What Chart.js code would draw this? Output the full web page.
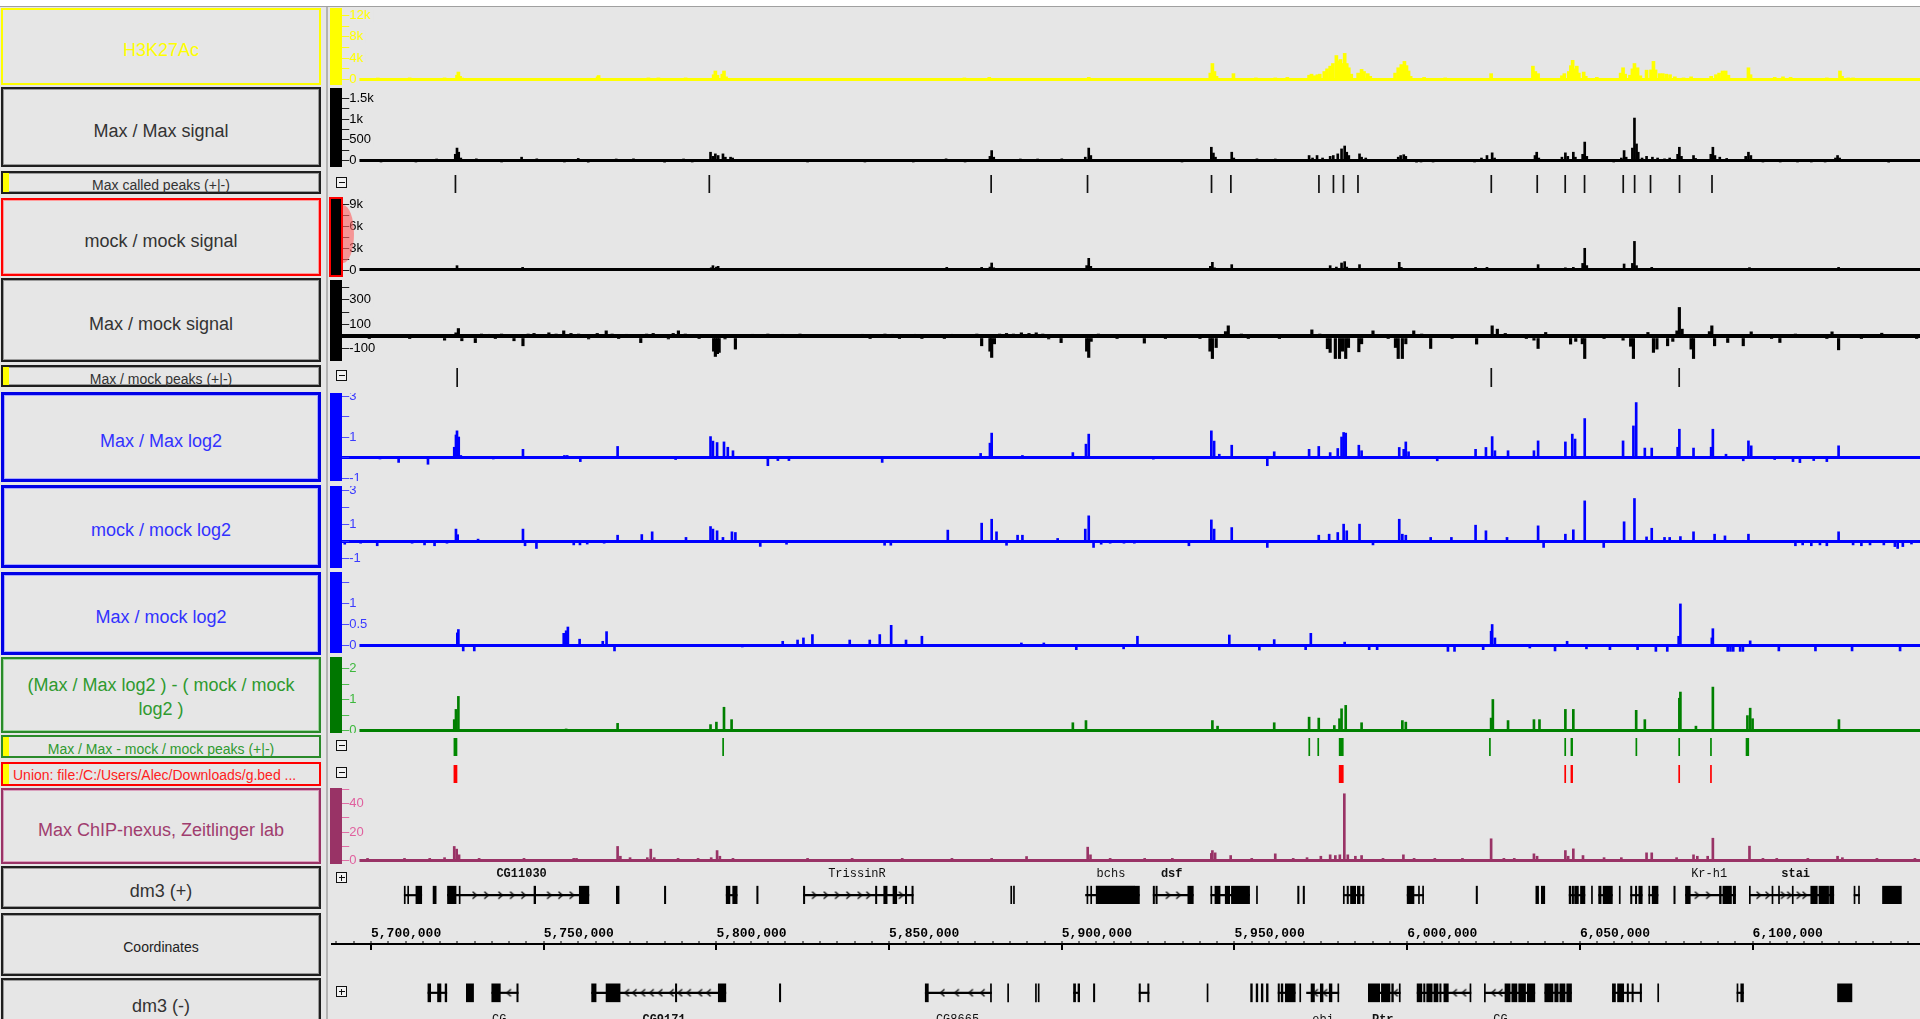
<!DOCTYPE html>
<html>
<head>
<meta charset="utf-8">
<script src="https://cdn.jsdelivr.net/npm/chart.js@4.4.1/dist/chart.umd.min.js"></script>
<style>
body{margin:0;width:1920px;height:1019px;overflow:hidden;background:#e6e6e6;position:relative;font-family:"Liberation Sans",Arial,sans-serif}
.abs{position:absolute}
.box{position:absolute;left:1px;width:320px;box-sizing:border-box;display:flex;align-items:center;justify-content:center;text-align:center;padding-top:7px;font-size:18px;line-height:24px;color:#333;background:#e6e6e6}
.k{border:2px solid #1e1e1e;box-shadow:inset 0 0 0 1px #9a9a9a}
.b{border:3px solid #0000e6;box-shadow:inset 0 0 0 1px #a8a8ff;color:#3232ff}
.small{font-size:14px;line-height:16px;padding-top:5px}
.flag{position:absolute;left:0;top:0;bottom:0;width:6px;background:#ffff00}
.tbar{position:absolute;left:330px;width:12px;z-index:3}
.ico{position:absolute;left:336px;width:9px;height:9px;border:1.5px solid #111;background:#f2f2f2;z-index:3}
.ico::before{content:'';position:absolute;left:1.5px;right:1.5px;top:3.75px;height:1.5px;background:#111}
.ico.plus::after{content:'';position:absolute;top:1.5px;bottom:1.5px;left:3.75px;width:1.5px;background:#111}
</style>
</head>
<body>
<div class="abs" style="left:0;top:0;width:1920px;height:6px;background:#fff;border-bottom:1px solid #a0a0a0"></div>
<div class="abs" style="left:326px;top:7px;width:2px;height:1012px;background:#b4b4b4"></div>

<!-- track names -->
<div class="box" style="top:8px;height:77px;border:2px solid #ffff00;color:#ffff00">H3K27Ac</div>
<div class="box k" style="top:87px;height:80px">Max / Max signal</div>
<div class="box k small" style="top:171px;height:23px"><div class="flag"></div>Max called peaks (+|-)</div>
<div class="box" style="top:198px;height:78px;border:2px solid #ff0000;box-shadow:inset 0 0 0 1px #ff9a9a">mock / mock signal</div>
<div class="box k" style="top:278px;height:84px">Max / mock signal</div>
<div class="box k small" style="top:365px;height:22px"><div class="flag"></div>Max / mock peaks (+|-)</div>
<div class="box b" style="top:392px;height:90px">Max / Max log2</div>
<div class="box b" style="top:485px;height:83px">mock / mock log2</div>
<div class="box b" style="top:572px;height:83px">Max / mock log2</div>
<div class="box" style="top:657px;height:76px;border:2px solid #2a8a2a;box-shadow:inset 0 0 0 1px #9fd49f;color:#2f9a2f;padding-top:3px">(Max / Max log2 ) - ( mock / mock<br>log2 )</div>
<div class="box small" style="top:735px;height:23px;border:2px solid #2a8a2a;color:#2f9a2f"><div class="flag"></div>Max / Max - mock / mock peaks (+|-)</div>
<div class="box small" style="top:762px;height:24px;border:2px solid #ff0000;color:#ff2020;justify-content:flex-start;padding-left:10px;padding-top:2px"><div class="flag"></div>Union: file:/C:/Users/Alec/Downloads/g.bed ...</div>
<div class="box" style="top:788px;height:76px;border:2px solid #993366;box-shadow:inset 0 0 0 1px #d9a0bd;color:#a03d6e">Max ChIP-nexus, Zeitlinger lab</div>
<div class="box k" style="top:866px;height:43px">dm3 (+)</div>
<div class="box k small" style="top:913px;height:63px;color:#222">Coordinates</div>
<div class="box k" style="top:978px;height:50px;align-items:flex-start;padding-top:14px">dm3 (-)</div>

<!-- data range bars and collapse icons -->
<div class="tbar" style="top:8px;height:77px;background:#ffff00"></div>
<div class="tbar" style="top:88px;height:79px;background:#000"></div>
<div class="tbar" style="top:197px;height:80px;left:329px;width:14px;box-sizing:border-box;border:2px solid #ff0000;background:#000"></div>
<div class="abs" style="left:343px;top:205px;width:11px;height:58px;z-index:2;background:rgba(255,95,95,0.6);border-radius:0 100% 100% 0 / 0 50% 50% 0"></div>
<div class="tbar" style="top:280px;height:81px;background:#000"></div>
<div class="tbar" style="top:393px;height:88px;background:#0000ff"></div>
<div class="tbar" style="top:486px;height:82px;background:#0000ff"></div>
<div class="tbar" style="top:572px;height:81px;background:#0000ff"></div>
<div class="tbar" style="top:657px;height:76px;background:#007700"></div>
<div class="tbar" style="top:788px;height:76px;background:#993366"></div>
<div class="ico" style="top:177px"></div>
<div class="ico" style="top:370px"></div>
<div class="ico" style="top:740px"></div>
<div class="ico" style="top:767px"></div>
<div class="ico plus" style="top:872px"></div>
<div class="ico plus" style="top:986px"></div>

<script>
// visible window, in kb of chr (dm3)
const XMIN = 5688.42, XMAX = 6148.47;
const BG = '#e6e6e6';

// ---- H3K27Ac ----
const h3kPos = [5702.0, 5711.2, 5721.3, 5724.9, 5725.3, 5725.8, 5726.4, 5765.6, 5765.9, 5780.3,
  5783.2, 5791.1, 5799.2, 5799.7, 5800.3, 5801.7, 5802.2, 5802.8, 5871.8, 5879.0,
  5907.8, 5943.0, 5943.6, 5944.2, 5944.8, 5949.7, 5956.2, 5961.8, 5965.3, 5971.6,
  5972.3, 5973.2, 5974.0, 5974.7, 5976.0, 5976.8, 5977.7, 5978.5, 5979.5, 5980.1,
  5980.7, 5981.3, 5981.9, 5982.5, 5983.1, 5983.8, 5985.8, 5986.8, 5987.5, 5988.6,
  5989.3, 5996.5, 5997.4, 5998.3, 5999.2, 5999.8, 6000.4, 6001.0, 6004.9, 6011.0,
  6024.3, 6036.4, 6037.1, 6037.9, 6044.8, 6045.5, 6046.8, 6047.4, 6047.9, 6048.5,
  6049.1, 6049.7, 6051.1, 6051.7, 6054.9, 6061.8, 6062.5, 6063.1, 6064.5, 6065.2,
  6065.8, 6066.7, 6067.5, 6069.3, 6070.6, 6071.3, 6071.9, 6073.1, 6074.0, 6075.0,
  6076.1, 6077.5, 6080.0, 6082.2, 6088.0, 6089.4, 6090.3, 6091.3, 6092.2, 6093.0,
  6098.8, 6099.4, 6106.4, 6108.8, 6111.0, 6121.5, 6125.3, 6125.9, 6127.7, 6129.1];
const h3kVal = [200, 300, 300, 800, 1400, 600, 200, 500, 750, 300,
  300, 300, 900, 1600, 800, 1000, 1600, 500, 300, 400,
  400, 1200, 3000, 1500, 600, 1100, 300, 300, 400, 800,
  1000, 700, 900, 1000, 1500, 2000, 2500, 3000, 4500, 3500,
  3750, 3000, 4900, 3000, 2200, 1000, 1200, 1900, 1500, 1100,
  600, 1200, 2200, 2800, 3400, 2600, 1600, 600, 400, 300,
  1100, 2500, 1500, 1100, 700, 1100, 1500, 2600, 3600, 2000,
  2500, 1200, 1400, 600, 400, 1200, 2200, 1000, 800, 2000,
  3000, 2200, 700, 1750, 1800, 3400, 1800, 1100, 1100, 1000,
  900, 500, 300, 500, 600, 900, 1200, 1600, 1600, 800,
  2200, 900, 400, 500, 400, 300, 1600, 600, 300, 300];
const h3kTicks = [0, 2000, 4000, 6000, 8000, 10000, 12000];
const h3kTickText = ['0', '', '4k', '', '8k', '', '12k'];

// ---- Max / Max signal ----
const maxPos = [5702.9, 5713.0, 5719.0, 5724.4, 5724.9, 5725.4, 5726.0, 5730.5, 5737.8, 5743.6,
  5748.0, 5756.0, 5760.0, 5762.9, 5771.0, 5776.0, 5785.0, 5790.5, 5793.0, 5798.3,
  5799.0, 5799.7, 5800.5, 5801.9, 5802.6, 5804.1, 5804.7, 5826.4, 5843.0, 5857.0,
  5866.5, 5872.0, 5879.2, 5879.7, 5880.3, 5888.0, 5893.0, 5900.0, 5906.8, 5907.8,
  5908.4, 5934.8, 5943.3, 5943.9, 5944.5, 5949.2, 5949.8, 5956.5, 5961.8, 5971.6,
  5972.6, 5973.9, 5975.5, 5977.7, 5978.6, 5979.9, 5981.0, 5981.9, 5982.5, 5983.1,
  5986.2, 5986.8, 5988.0, 5997.4, 5998.1, 5999.0, 5999.6, 6002.7, 6004.0, 6007.5,
  6019.5, 6021.5, 6023.1, 6024.6, 6025.3, 6037.0, 6037.5, 6038.1, 6044.8, 6045.8,
  6046.5, 6048.1, 6048.7, 6050.8, 6051.4, 6052.0, 6059.8, 6062.0, 6062.8, 6063.4,
  6065.2, 6065.8, 6066.4, 6066.9, 6068.0, 6069.3, 6071.0, 6072.5, 6074.5, 6076.0,
  6078.3, 6078.8, 6079.4, 6082.9, 6083.5, 6087.9, 6088.5, 6089.1, 6090.5, 6092.5,
  6098.0, 6098.8, 6099.5, 6103.0, 6108.0, 6113.0, 6117.0, 6121.0, 6124.0, 6124.6,
  6125.2, 6139.4];
const maxVal = [-30, -30, 30, 150, 300, 200, 60, 40, -30, 80,
  40, -30, 50, -40, 30, 40, -40, 30, -30, 200,
  100, 160, 120, 160, 80, 80, 60, -30, -30, -30,
  40, -30, 100, 240, 80, 30, 30, 40, 80, 300,
  120, -30, 320, 180, 80, 200, 60, 40, 30, 120,
  60, 120, 60, 100, 120, 160, 280, 350, 200, 120,
  160, 80, 60, 80, 120, 140, 100, -40, -30, -30,
  -30, 60, 120, 185, 60, 120, 200, 60, 80, 185,
  100, 200, 80, 150, 445, 100, -30, 60, 240, 80,
  300, 1025, 400, 200, 60, 100, 80, 60, 40, 60,
  150, 320, 100, 120, 50, 150, 320, 120, 80, 50,
  100, 200, 120, -20, -30, -20, -30, -30, 60, 120,
  60, -40];
const maxTicks = [0, 250, 500, 750, 1000, 1250, 1500];
const maxTickText = ['0', '', '500', '', '1k', '', '1.5k'];

// ---- mock / mock signal ----
const mockPos = [5724.9, 5725.5, 5733.0, 5743.9, 5771.0, 5778.5, 5790.5, 5798.5, 5799.0, 5800.0,
  5800.5, 5805.1, 5866.7, 5876.8, 5879.2, 5879.7, 5880.3, 5888.0, 5907.2, 5907.8,
  5908.4, 5943.0, 5943.6, 5944.2, 5949.2, 5974.6, 5976.5, 5977.7, 5979.5, 5981.0,
  5981.9, 5982.5, 5986.2, 5986.8, 5997.7, 5998.3, 6012.8, 6019.8, 6023.1, 6037.9,
  6038.5, 6045.8, 6048.1, 6050.8, 6051.4, 6052.0, 6062.8, 6063.4, 6065.2, 6065.8,
  6066.4, 6070.8, 6074.5, 6076.8, 6079.1, 6082.9, 6085.3, 6088.5, 6091.6, 6099.1,
  6124.9];
const mockVal = [590, 200, 100, 360, 100, 100, 100, 300, 590, 400,
  500, 230, 360, 360, 400, 955, 300, 230, 600, 1590,
  500, 500, 1050, 300, 730, 230, 230, 590, 400, 955,
  1140, 400, 730, 200, 1050, 360, 230, 360, 360, 730,
  200, 300, 360, 900, 2960, 600, 820, 200, 900, 3900,
  590, 360, 230, 230, 230, 230, 230, 230, 230, 320,
  360];
const mockTicks = [0, 1500, 3000, 4500, 6000, 7500, 9000];
const mockTickText = ['0', '', '3k', '', '6k', '', '9k'];

// ---- Max / mock signal ----
const mmPos = [5696.8, 5699.5, 5702.5, 5705.4, 5708.3, 5711.2, 5714.1, 5717.0, 5719.8, 5721.3,
  5724.6, 5725.3, 5726.3, 5728.3, 5730.2, 5732.0, 5734.2, 5736.0, 5737.8, 5739.6,
  5741.4, 5744.0, 5745.5, 5747.2, 5749.3, 5751.5, 5753.6, 5755.8, 5757.9, 5760.1,
  5763.0, 5765.5, 5768.1, 5769.8, 5771.7, 5774.0, 5776.0, 5778.1, 5779.8, 5781.7,
  5784.0, 5786.1, 5787.5, 5789.0, 5791.0, 5793.3, 5795.0, 5796.9, 5799.2, 5799.7,
  5800.3, 5800.8, 5802.5, 5805.5, 5807.5, 5810.5, 5812.5, 5814.9, 5817.0, 5819.2,
  5822.0, 5824.2, 5826.0, 5827.8, 5837.9, 5840.0, 5842.2, 5844.5, 5846.6, 5848.8,
  5850.9, 5853.0, 5855.2, 5857.5, 5859.5, 5861.5, 5863.8, 5866.0, 5868.2, 5870.5,
  5872.5, 5875.4, 5876.8, 5879.2, 5879.7, 5880.5, 5882.0, 5884.0, 5886.0, 5888.3,
  5890.5, 5892.6, 5894.5, 5896.2, 5898.0, 5899.8, 5902.0, 5904.2, 5907.2, 5907.8,
  5908.5, 5910.6, 5913.0, 5916.0, 5919.0, 5921.0, 5923.9, 5927.0, 5930.0, 5933.8,
  5937.0, 5940.0, 5942.9, 5943.6, 5944.7, 5947.4, 5948.2, 5950.0, 5952.0, 5954.0,
  5956.5, 5959.0, 5961.0, 5963.0, 5965.6, 5968.0, 5970.0, 5972.4, 5974.7, 5976.9,
  5977.7, 5979.2, 5980.4, 5981.3, 5982.2, 5983.0, 5986.0, 5986.8, 5988.5, 5990.1,
  5992.8, 5994.5, 5996.6, 5997.4, 5998.6, 5999.6, 6001.9, 6004.2, 6006.8, 6009.0,
  6011.0, 6013.0, 6015.5, 6018.0, 6020.1, 6022.0, 6024.6, 6026.1, 6028.4, 6030.2,
  6032.2, 6034.5, 6036.7, 6037.9, 6040.1, 6042.8, 6045.0, 6047.3, 6048.8, 6050.7,
  6051.4, 6053.0, 6054.9, 6057.0, 6059.5, 6062.5, 6064.7, 6065.5, 6067.5, 6069.7,
  6071.3, 6072.3, 6074.0, 6075.4, 6076.9, 6078.1, 6078.8, 6079.6, 6081.0, 6082.2,
  6082.9, 6085.0, 6087.5, 6088.2, 6089.0, 6090.8, 6092.8, 6095.0, 6097.3, 6099.6,
  6101.5, 6103.4, 6105.5, 6107.9, 6110.0, 6112.4, 6114.5, 6117.0, 6119.5, 6121.5,
  6123.0, 6124.9, 6127.0, 6129.1, 6131.5, 6133.6, 6135.5, 6137.4, 6140.0, 6142.7,
  6145.0, 6147.5];
const mmVal = [12, -8, 15, 10, 12, -10, 14, 10, 12, -30,
  30, 65, -35, 15, -50, 20, 18, -15, 20, 12,
  -35, -76, 20, 25, 15, 30, 20, 46, 25, 20,
  -20, 25, 46, 20, -15, 18, 15, -50, 20, 25,
  15, -20, 25, 46, 20, 15, -15, 12, -120, -163,
  -140, -130, -20, -103, 15, 18, 15, 20, 15, 18,
  12, 20, 15, 12, 15, 12, 18, -10, 15, 20,
  18, -12, 15, 18, -15, 14, 15, -12, 18, 12,
  15, 20, -76, -120, -171, -60, 20, 25, 20, 30,
  25, 30, 20, -20, 15, -50, 15, 12, -120, -171,
  -40, 20, 12, -10, 15, 10, -54, 12, -10, 10,
  12, -10, -120, -180, -90, 40, 87, 15, 20, -12,
  15, 12, 12, -10, 15, 12, 15, 54, 20, -100,
  -130, -180, -180, -120, -180, -90, -125, -60, 15, 46,
  15, -12, -90, -180, -180, -60, 46, 20, -98, 15,
  15, -12, 15, 12, -62, 12, 87, 60, 25, 12,
  15, -12, -30, -98, 33, 15, 12, -62, -40, -60,
  -180, 12, 15, -12, 15, -30, -80, -180, 15, 33,
  -130, -103, 15, -76, -40, 46, 237, 60, 15, -103,
  -180, 12, 40, 87, -76, 15, -49, 15, -76, 38,
  12, 15, -12, -49, 12, 20, 15, 15, 12, -12,
  38, -109, 12, 12, -10, 10, 12, 27, 10, 10,
  12, -8];
const mmTicks = [-100, 0, 100, 200, 300, 400];
const mmTickText = ['-100', '', '100', '', '300', ''];

// ---- Max / Max log2 ----
const l2aPos = [5702.6, 5708.0, 5716.5, 5724.1, 5724.6, 5724.9, 5725.4, 5726.0, 5735.4, 5744.0,
  5756.0, 5756.8, 5760.6, 5771.4, 5788.2, 5798.3, 5799.0, 5800.2, 5802.2, 5803.3,
  5804.8, 5814.9, 5817.8, 5821.0, 5848.0, 5876.5, 5879.2, 5879.7, 5888.6, 5903.2,
  5907.0, 5907.8, 5926.5, 5943.3, 5944.1, 5945.6, 5949.2, 5959.5, 5961.5, 5971.6,
  5974.4, 5977.7, 5979.9, 5981.0, 5981.6, 5982.2, 5986.0, 5986.8, 5997.7, 5999.0,
  5999.6, 6000.4, 6008.7, 6019.8, 6022.8, 6024.6, 6025.4, 6029.2, 6036.7, 6037.9,
  6045.8, 6047.8, 6048.6, 6051.4, 6062.5, 6065.5, 6066.3, 6068.8, 6070.8, 6078.3,
  6078.8, 6082.9, 6088.0, 6088.5, 6092.3, 6097.3, 6098.8, 6099.6, 6106.4, 6111.7,
  6113.7, 6117.7, 6121.5, 6124.9];
const l2aVal = [-0.05, -0.24, -0.33, 0.5, 1.1, 1.3, 1.0, 0.1, -0.06, 0.4,
  0.1, 0.1, -0.2, 0.54, -0.1, 1.02, 0.8, 0.73, 0.76, 0.5,
  0.33, -0.4, -0.15, -0.15, -0.24, 0.2, 0.7, 1.19, 0.1, 0.24,
  0.65, 1.14, -0.08, 1.3, 0.8, 0.16, 0.6, -0.4, 0.28, 0.4,
  0.54, 0.24, 0.44, 1.0, 1.22, 1.19, 0.6, 0.33, 0.49, 0.4,
  0.76, 0.28, -0.16, 0.4, 0.49, 1.02, 0.33, 0.33, 0.33, 0.81,
  0.76, 1.14, 0.9, 1.9, 0.81, 1.54, 2.68, 0.46, 0.46, 0.5,
  1.38, 0.46, 0.5, 1.38, 0.16, -0.16, 0.81, 0.57, -0.1, -0.2,
  -0.25, -0.15, -0.2, 0.57];

// ---- mock / mock log2 ----
const l2bPos = [5692.4, 5697.0, 5701.8, 5711.9, 5715.5, 5718.4, 5722.0, 5724.6, 5725.1, 5731.0,
  5744.0, 5744.6, 5747.9, 5758.7, 5760.5, 5762.6, 5767.5, 5771.4, 5778.4, 5781.4,
  5791.2, 5798.3, 5799.0, 5800.2, 5801.9, 5804.5, 5805.5, 5812.7, 5820.3, 5848.7,
  5850.5, 5867.0, 5876.8, 5879.7, 5881.1, 5884.0, 5887.2, 5888.6, 5898.8, 5906.8,
  5907.8, 5909.2, 5911.4, 5914.0, 5918.0, 5921.0, 5936.8, 5943.3, 5944.1, 5949.2,
  5959.5, 5974.4, 5977.4, 5979.9, 5981.6, 5982.5, 5986.2, 5990.1, 5997.7, 5998.6,
  5999.6, 6006.8, 6012.8, 6019.8, 6022.8, 6028.9, 6037.9, 6039.5, 6045.8, 6048.1,
  6051.4, 6056.9, 6062.8, 6065.8, 6069.3, 6070.8, 6074.5, 6076.0, 6079.1, 6082.9,
  6089.0, 6092.0, 6098.8, 6112.4, 6114.5, 6117.0, 6119.5, 6121.5, 6124.9, 6129.1,
  6131.5, 6134.0, 6138.0, 6141.2, 6142.0, 6143.5, 6146.0];
const l2bVal = [-0.16, -0.1, -0.25, -0.1, -0.2, -0.25, -0.1, 0.73, 0.4, 0.14,
  0.73, -0.25, -0.41, -0.2, -0.2, -0.15, -0.1, 0.37, 0.41, 0.57,
  0.24, 0.88, 0.73, 0.63, 0.24, 0.57, 0.53, -0.29, -0.16, -0.22,
  -0.22, 0.67, 1.08, 1.31, 0.57, -0.22, 0.37, 0.37, 0.18, 0.73,
  1.51, -0.35, -0.16, -0.1, -0.1, -0.1, -0.25, 1.27, 0.73, 0.82,
  -0.35, 0.37, 0.43, 0.53, 1.02, 0.63, 1.02, -0.2, 1.31, 0.43,
  0.37, 0.24, 0.24, 0.96, 0.63, 0.24, 0.92, -0.35, 0.43, 0.69,
  2.39, -0.35, 1.16, 2.53, 0.27, 0.78, 0.24, 0.24, 0.29, 0.57,
  0.43, 0.33, 0.43, -0.25, -0.2, -0.25, -0.2, -0.25, 0.57, -0.2,
  -0.25, -0.2, -0.2, -0.3, -0.41, -0.3, -0.15];
const log2Ticks = [-1, 0, 1, 2, 3];
const log2TickText = ['-1', '', '1', '', '3'];

// ---- Max / mock log2 ----
const l2cPos = [5725.0, 5725.3, 5726.7, 5729.9, 5755.8, 5756.5, 5757.0, 5760.4, 5767.1, 5768.2,
  5770.5, 5807.5, 5819.2, 5823.5, 5825.2, 5827.8, 5838.6, 5844.4, 5847.3, 5850.6,
  5854.9, 5859.5, 5888.3, 5894.8, 5904.2, 5917.9, 5921.9, 5948.5, 5957.2, 5961.5,
  5970.6, 5972.1, 5981.9, 5989.0, 5991.3, 6011.8, 6013.7, 6022.0, 6024.3, 6024.6,
  6025.4, 6035.5, 6042.8, 6046.3, 6051.9, 6058.7, 6066.7, 6072.0, 6075.3, 6078.6,
  6079.1, 6088.2, 6088.5, 6092.8, 6093.6, 6094.4, 6096.4, 6097.2, 6099.3, 6107.6,
  6118.2, 6128.8, 6142.7];
const l2cVal = [0.3, 0.38, -0.13, -0.13, 0.29, 0.35, 0.44, 0.15, 0.1, 0.33,
  -0.13, -0.03, 0.1, 0.13, 0.18, 0.26, 0.13, 0.13, 0.26, 0.48,
  0.13, 0.22, 0.06, 0.06, -0.1, -0.08, 0.22, 0.25, -0.11, 0.14,
  -0.1, 0.29, 0.08, -0.1, -0.1, -0.14, -0.14, -0.1, 0.34, 0.5,
  0.18, -0.06, -0.13, 0.1, -0.08, -0.1, -0.1, -0.14, -0.14, 0.22,
  0.99, 0.18, 0.4, -0.14, -0.14, -0.14, -0.14, -0.14, 0.11, -0.13,
  -0.13, -0.13, -0.13];
const l2cTicks = [0, 0.5, 1, 1.5];
const l2cTickText = ['0', '0.5', '1', ''];

// ---- (Max / Max log2) - (mock / mock log2) ----
const dfPos = [5724.1, 5724.6, 5725.3, 5756.5, 5771.4, 5798.3, 5800.0, 5802.2, 5804.4, 5903.2,
  5907.0, 5943.6, 5945.1, 5961.5, 5971.6, 5974.4, 5978.9, 5980.4, 5981.0, 5982.2,
  5986.8, 5998.6, 5999.6, 6024.3, 6024.8, 6029.2, 6036.7, 6038.3, 6045.8, 6048.1,
  6066.3, 6068.8, 6078.8, 6079.1, 6083.6, 6088.5, 6098.5, 6099.3, 6100.0, 6125.0];
const dfVal = [0.35, 0.68, 1.1, 0.05, 0.23, 0.19, 0.27, 0.75, 0.35, 0.25,
  0.32, 0.32, 0.14, 0.25, 0.43, 0.4, 0.16, 0.38, 0.7, 0.81,
  0.25, 0.32, 0.27, 0.4, 1.0, 0.32, 0.35, 0.35, 0.68, 0.68,
  0.65, 0.35, 1.04, 1.24, 0.14, 1.4, 0.48, 0.72, 0.38, 0.35];
const dfTicks = [0, 0.5, 1, 1.5, 2];
const dfTickText = ['0', '', '1', '', '2'];

// ---- Max ChIP-nexus ----
const nxPos = [5699.0, 5709.7, 5717.0, 5721.3, 5724.1, 5724.8, 5725.5, 5731.3, 5744.3, 5758.7,
  5759.5, 5771.4, 5772.2, 5775.0, 5780.0, 5781.0, 5782.0, 5788.9, 5794.7, 5798.5,
  5800.2, 5801.0, 5804.8, 5826.4, 5839.3, 5853.8, 5868.2, 5879.7, 5889.8, 5907.5,
  5908.3, 5914.0, 5924.0, 5932.0, 5943.3, 5943.6, 5944.4, 5948.9, 5955.0, 5961.8,
  5967.0, 5971.0, 5975.0, 5977.7, 5979.2, 5980.5, 5981.8, 5982.8, 5985.0, 5986.8,
  5993.0, 5998.9, 6002.0, 6008.0, 6016.0, 6024.3, 6028.0, 6031.0, 6036.7, 6037.6,
  6045.8, 6046.6, 6048.1, 6050.9, 6057.0, 6062.0, 6069.3, 6070.8, 6078.0, 6082.9,
  6084.0, 6087.0, 6088.5, 6099.1, 6103.0, 6107.0, 6116.0, 6124.6, 6126.0, 6136.0,
  6147.0];
const nxVal = [1.5, 1.5, 1.5, 2, 9.9, 8, 4, 1.5, 1.5, 1.5,
  1.5, 9.9, 3, 2, 2, 8, 2, 1.5, 1.5, 2,
  7, 3, 1.5, 1.5, 1.5, 1.5, 1.5, 1.5, 2.8, 9.4,
  4, 1.5, 1.5, 1.5, 5, 7, 5.4, 3.5, 1.5, 4.7,
  1.5, 2, 3, 4, 3.5, 4, 47, 4, 3, 3.5,
  1.5, 4, 1.5, 1.5, 1.5, 15.3, 1.5, 1.5, 4.7, 3,
  7, 3, 8.2, 3.5, 2, 2, 5.4, 5.4, 2, 4,
  3, 3, 15.7, 10.1, 1.5, 1.5, 1.5, 3, 2, 1.5,
  1.5];
const nxTicks = [0, 10, 20, 30, 40, 50];
const nxTickText = ['0', '', '20', '', '40', ''];

// ---- peak calls [start, end] kb ----
const peaksMax = [[5724.3, 5724.6], [5797.8, 5798.1], [5879.4, 5879.7], [5907.3, 5907.6], [5943.2, 5943.5],
  [5948.8, 5949.1], [5974.3, 5974.6], [5978.5, 5978.8], [5981.4, 5981.7], [5985.6, 5985.9],
  [6024.2, 6024.5], [6037.5, 6037.8], [6045.6, 6045.9], [6051.2, 6051.5], [6062.4, 6062.7],
  [6065.7, 6066.0], [6070.3, 6070.6], [6078.7, 6079.0], [6088.1, 6088.4]];
const peaksMaxMock = [[5724.8, 5725.1], [6024.2, 6024.5], [6078.6, 6078.9]];
const peaksDiff = [[5724.0, 5724.9], [5801.8, 5802.1], [5971.5, 5971.8], [5974.1, 5974.4], [5980.3, 5981.5],
  [6023.8, 6024.1], [6045.6, 6045.9], [6047.4, 6047.9], [6066.2, 6066.5], [6078.6, 6078.9],
  [6087.8, 6088.1], [6098.1, 6098.9]];
const peaksUnion = [[5724.0, 5724.9], [5980.3, 5981.5], [6045.6, 6045.9], [6047.4, 6047.9],
  [6078.6, 6078.9], [6087.8, 6088.1]];

// ---- dm3 genes ----
const plusExons = [[5708.3, 5708.6], [5709.3, 5709.6], [5711.7, 5713.4], [5716.7, 5717.6], [5720.9, 5723.4],
  [5724.3, 5724.6], [5746.1, 5746.6], [5759.3, 5762.1], [5770.1, 5770.9], [5784.1, 5784.5],
  [5802.1, 5803.2], [5804.0, 5805.3], [5811.0, 5811.4], [5824.6, 5825.0], [5845.6, 5846.0],
  [5848.0, 5849.0], [5850.7, 5851.8], [5854.3, 5854.7], [5856.2, 5856.6], [5885.0, 5885.3],
  [5885.8, 5886.1], [5907.2, 5907.5], [5908.3, 5908.6], [5909.9, 5921.0], [5921.0, 5922.5],
  [5926.5, 5926.9], [5927.3, 5927.7], [5936.6, 5938.2], [5943.3, 5943.6], [5944.5, 5946.0],
  [5947.5, 5948.8], [5949.3, 5954.6], [5956.6, 5956.9], [5968.6, 5969.0], [5970.2, 5970.6],
  [5981.9, 5982.2], [5983.0, 5983.4], [5984.0, 5985.5], [5986.0, 5986.8], [5987.5, 5987.9],
  [6000.5, 6002.5], [6003.8, 6004.1], [6005.0, 6005.3], [6020.6, 6021.0], [6038.0, 6038.8],
  [6039.6, 6040.6], [6047.7, 6048.2], [6048.6, 6049.0], [6049.3, 6050.4], [6051.0, 6052.3],
  [6054.2, 6054.5], [6056.3, 6057.0], [6057.6, 6060.3], [6062.3, 6062.6], [6065.6, 6066.0],
  [6067.0, 6067.4], [6068.0, 6069.0], [6070.9, 6071.2], [6071.9, 6073.6], [6078.2, 6078.6],
  [6081.6, 6083.0], [6091.5, 6092.0], [6092.5, 6095.0], [6095.5, 6096.2], [6100.2, 6100.5],
  [6106.8, 6107.1], [6108.7, 6109.0], [6112.7, 6113.0], [6118.1, 6120.0], [6120.5, 6123.3],
  [6123.6, 6124.8], [6130.7, 6131.0], [6132.0, 6132.3], [6139.0, 6144.5]];
const plusIntrons = [[5708.3, 5713.4], [5720.9, 5762.1], [5802.1, 5805.3], [5824.6, 5856.6], [5906.8, 5922.5],
  [5926.5, 5938.2], [5943.3, 5954.6], [5981.9, 5987.9], [6000.5, 6005.3], [6047.7, 6052.3],
  [6056.3, 6060.3], [6065.6, 6069.0], [6070.9, 6073.6], [6081.6, 6096.2], [6100.2, 6124.8],
  [6130.7, 6132.3]];
const plusArrows = [5728.8, 5732.2, 5736.3, 5739.7, 5743.0, 5750.5, 5753.8, 5757.1, 5827.7, 5831.1,
  5834.4, 5837.7, 5841.0, 5843.5, 5853.0, 5930.8, 5933.8, 6084.9, 6088.2, 6102.9,
  6105.5, 6110.0, 6111.8, 6114.6, 6116.3];
const plusNames = ['CG11030', 'TrissinR', 'bchs', 'dsf', 'Kr-h1', 'stai'];
const plusNamePos = [5742.5, 5840.2, 5914.2, 5931.9, 6088.5, 6113.7];
const plusNameBold = [true, false, false, true, false, true];

const minusExons = [[5715.2, 5716.0], [5718.0, 5719.0], [5720.2, 5720.7], [5726.4, 5728.5], [5733.8, 5736.3],
  [5741.1, 5741.5], [5762.9, 5764.2], [5767.1, 5771.2], [5787.3, 5787.7], [5799.8, 5802.0],
  [5817.6, 5818.0], [5860.1, 5861.0], [5879.1, 5879.4], [5884.1, 5884.4], [5892.2, 5892.5],
  [5893.0, 5893.3], [5903.3, 5903.9], [5904.6, 5905.1], [5909.1, 5909.5], [5922.4, 5922.8],
  [5924.9, 5925.3], [5942.2, 5942.5], [5954.9, 5955.4], [5956.5, 5957.0], [5958.0, 5958.5],
  [5959.5, 5960.0], [5962.9, 5963.3], [5963.8, 5964.3], [5965.0, 5967.9], [5969.2, 5969.5],
  [5972.5, 5973.5], [5975.2, 5976.0], [5977.8, 5978.6], [5980.3, 5980.6], [5989.2, 5992.5],
  [5993.0, 5995.5], [5996.0, 5996.5], [5998.2, 5998.5], [6003.4, 6004.8], [6005.3, 6005.7],
  [6006.2, 6007.8], [6008.3, 6009.5], [6010.0, 6010.4], [6011.2, 6012.5], [6018.8, 6019.1],
  [6023.0, 6023.3], [6029.0, 6030.5], [6031.0, 6032.5], [6033.0, 6035.0], [6035.5, 6037.7],
  [6040.6, 6043.0], [6043.5, 6044.5], [6045.0, 6046.5], [6047.0, 6048.4], [6060.3, 6061.2],
  [6061.8, 6063.6], [6064.6, 6065.0], [6066.0, 6066.4], [6068.4, 6068.8], [6073.5, 6073.8],
  [6096.6, 6096.9], [6097.7, 6098.5], [6125.9, 6130.1]];
const minusIntrons = [[5715.2, 5720.7], [5733.8, 5741.5], [5762.9, 5802.0], [5860.1, 5879.4], [5903.3, 5905.1],
  [5922.4, 5925.3], [5962.9, 5967.9], [5971.2, 5980.6], [5989.2, 5998.5], [6003.4, 6019.1],
  [6023.0, 6037.7], [6040.6, 6048.4], [6060.3, 6068.8], [6096.6, 6098.5]];
const minusArrows = [5738.8, 5773.2, 5775.4, 5777.9, 5780.4, 5782.9, 5786.2, 5788.7, 5791.2, 5794.5,
  5797.0, 5865.1, 5869.3, 5873.4, 5876.8, 5973.9, 5976.6, 5997.2, 6014.4, 6017.1,
  6025.7, 6027.7];
const minusNames = ['CG', 'CG9171', 'CG8665', 'ebi', 'Ptr', 'CG'];
const minusNamePos = [5736.0, 5784.0, 5869.5, 5976.0, 5993.4, 6027.7];
const minusNameBold = [false, true, false, false, true, false];

Chart.defaults.font.family = '"Liberation Sans", Arial, sans-serif';
Chart.defaults.animation = false;
Chart.defaults.responsive = false;
Chart.defaults.events = [];
Chart.defaults.plugins.legend.display = false;
Chart.defaults.plugins.tooltip.enabled = false;

function addCanvas(top, height) {
  const cv = document.createElement('canvas');
  cv.width = 1589;
  cv.height = height;
  cv.style.cssText = 'position:absolute;left:331px;top:' + top + 'px;width:1589px;height:' + height + 'px;z-index:1';
  document.body.appendChild(cv);
  return cv;
}

const xScale = { type: 'linear', min: XMIN, max: XMAX, display: false, offset: false, grid: { offset: false } };

// signal tracks
const signalTracks = [
  { top: 8, height: 77, min: -1030, max: 13410, pos: h3kPos, val: h3kVal, ticks: h3kTicks, text: h3kTickText, color: '#ffff00', tick: '#ffff00', bar: 3, base: 3 },
  { top: 88, height: 79, min: -157, max: 1751, pos: maxPos, val: maxVal, ticks: maxTicks, text: maxTickText, color: '#000000', tick: '#000000', bar: 2, base: 3 },
  { top: 199, height: 76, min: -682, max: 9682, pos: mockPos, val: mockVal, ticks: mockTicks, text: mockTickText, color: '#000000', tick: '#000000', bar: 2, base: 3 },
  { top: 280, height: 81, min: -200, max: 461, pos: mmPos, val: mmVal, ticks: mmTicks, text: mmTickText, color: '#000000', tick: '#000000', bar: 2.5, base: 4 },
  { top: 393, height: 88, min: -1.146, max: 3.146, pos: l2aPos, val: l2aVal, ticks: log2Ticks, text: log2TickText, color: '#0000ff', tick: '#3a3aff', bar: 2, base: 3 },
  { top: 486, height: 82, min: -1.559, max: 3.265, pos: l2bPos, val: l2bVal, ticks: log2Ticks, text: log2TickText, color: '#0000ff', tick: '#3a3aff', bar: 2, base: 3 },
  { top: 572, height: 81, min: -0.179, max: 1.75, pos: l2cPos, val: l2cVal, ticks: l2cTicks, text: l2cTickText, color: '#0000ff', tick: '#3a3aff', bar: 2, base: 3 },
  { top: 657, height: 76, min: -0.081, max: 2.371, pos: dfPos, val: dfVal, ticks: dfTicks, text: dfTickText, color: '#008000', tick: '#3cb83c', bar: 2, base: 3 },
  { top: 788, height: 76, min: -2.46, max: 51.06, pos: nxPos, val: nxVal, ticks: nxTicks, text: nxTickText, color: '#993366', tick: '#e0609e', bar: 2, base: 3 }
];

signalTracks.forEach(t => {
  new Chart(addCanvas(t.top, t.height), {
    type: 'bar',
    data: {
      datasets: [{
        data: t.pos.map((p, i) => ({ x: p, y: t.val[i] })),
        backgroundColor: t.color,
        borderWidth: 0,
        barThickness: t.bar
      }]
    },
    options: {
      layout: { padding: 0 },
      scales: {
        x: xScale,
        y: {
          type: 'linear', min: t.min, max: t.max, position: 'left', offset: false,
          afterBuildTicks: s => { s.ticks = t.ticks.map(v => ({ value: v })); },
          afterFit: s => { s.width = 0; s.paddingTop = 0; s.paddingBottom = 0; },
          border: { display: false },
          grid: {
            drawTicks: false,
            lineWidth: t.base,
            color: c => (c.tick && c.tick.value === 0) ? t.color : 'rgba(0,0,0,0)'
          },
          ticks: {
            mirror: true, padding: 11, autoSkip: false, z: 1,
            color: t.tick,
            font: { size: 13, lineHeight: 1 },
            showLabelBackdrop: true,
            backdropPadding: { x: 3, y: 0 },
            backdropColor: c => t.text[c.index] ? BG : 'rgba(0,0,0,0)',
            callback: (v, i) => '\u2013' + t.text[i]
          }
        }
      }
    }
  });
});

// feature (peak) tracks
function featureTrack(top, height, intervals, color) {
  new Chart(addCanvas(top, height), {
    type: 'bar',
    data: {
      datasets: [{
        indexAxis: 'y',
        data: intervals.map(iv => ({ x: iv, y: 0 })),
        backgroundColor: color,
        borderWidth: 0,
        barThickness: height
      }]
    },
    options: {
      indexAxis: 'y',
      scales: { x: xScale, y: { type: 'linear', min: -1, max: 1, display: false, offset: false } }
    }
  });
}
featureTrack(175, 18, peaksMax, '#111111');
featureTrack(368, 19, peaksMaxMock, '#111111');
featureTrack(738, 18, peaksDiff, '#008800');
featureTrack(765, 18, peaksUnion, '#ff0000');

// strand chevrons
function chevron(dir) {
  const c = document.createElement('canvas');
  c.width = 7; c.height = 9;
  const g = c.getContext('2d');
  g.strokeStyle = '#000';
  g.lineWidth = 1.3;
  g.beginPath();
  if (dir > 0) { g.moveTo(1.5, 1); g.lineTo(5.5, 4.5); g.lineTo(1.5, 8); }
  else { g.moveTo(5.5, 1); g.lineTo(1.5, 4.5); g.lineTo(5.5, 8); }
  g.stroke();
  return c;
}

function geneTrack(top, height, yMin, yMax, exons, introns, arrows, dir, names, namePos, nameBold, nameY) {
  new Chart(addCanvas(top, height), {
    type: 'bar',
    data: {
      datasets: [
        { indexAxis: 'y', grouped: false, data: introns.map(iv => ({ x: iv, y: 0 })), backgroundColor: '#000', borderWidth: 0, barThickness: 1.5 },
        { indexAxis: 'y', grouped: false, data: exons.map(iv => ({ x: iv, y: 0 })), backgroundColor: '#000', borderWidth: 0, barThickness: 18 },
        { type: 'scatter', indexAxis: 'x', data: arrows.map(p => ({ x: p, y: 0 })), pointStyle: chevron(dir), pointRadius: 4 }
      ]
    },
    options: {
      scales: { x: xScale, y: { type: 'linear', min: yMin, max: yMax, display: false, offset: false } }
    },
    plugins: [{
      id: 'geneNames',
      afterDatasetsDraw(chart) {
        const g = chart.ctx, xs = chart.scales.x;
        g.save();
        g.fillStyle = '#111';
        g.textAlign = 'center';
        g.textBaseline = 'middle';
        names.forEach((n, i) => {
          g.font = (nameBold[i] ? 'bold ' : '') + '12px "Liberation Mono", monospace';
          g.fillText(n, xs.getPixelForValue(namePos[i]), nameY);
        });
        g.restore();
      }
    }]
  });
}
geneTrack(866, 43, -0.365, 1, plusExons, plusIntrons, plusArrows, 1, plusNames, plusNamePos, plusNameBold, 8);
geneTrack(978, 41, -1, 0.464, minusExons, minusIntrons, minusArrows, -1, minusNames, minusNamePos, minusNameBold, 42);

// coordinate ruler
new Chart(addCanvas(913, 37), {
  type: 'scatter',
  data: { datasets: [] },
  options: {
    scales: {
      x: {
        type: 'linear', position: 'top', min: XMIN, max: XMAX, offset: false,
        afterFit: s => { s.height = 31; s.paddingLeft = 0; s.paddingRight = 0; },
        border: { display: true, color: '#000', width: 2 },
        grid: {
          color: c => (c.tick && c.tick.value % 50 === 0) ? '#000' : 'rgba(0,0,0,0)',
          lineWidth: 2, tickColor: '#000', tickLength: 3, tickWidth: 1
        },
        ticks: {
          stepSize: 5, maxTicksLimit: 200, includeBounds: false, autoSkip: false,
          maxRotation: 0, minRotation: 0, padding: 1, color: '#000', align: 'start',
          font: { family: '"Liberation Mono", monospace', size: 13, weight: 'bold', lineHeight: 1 },
          callback: v => v % 50 === 0 ? (v * 1000).toLocaleString('en-US') : ''
        }
      },
      y: { type: 'linear', min: 0, max: 1, display: false }
    }
  }
});
</script>
</body>
</html>
